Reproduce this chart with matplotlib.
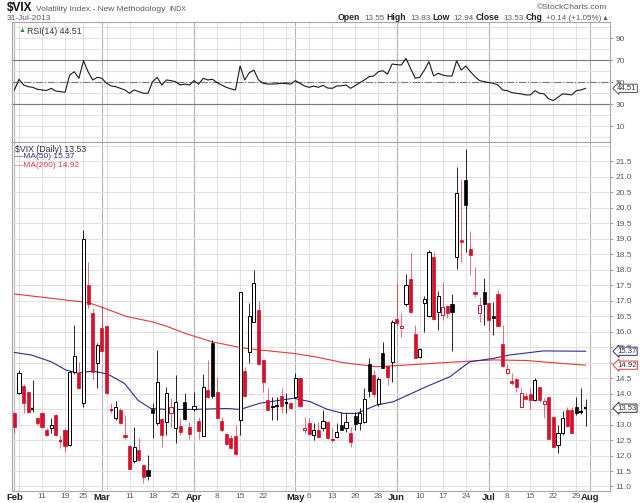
import numpy as np
import pandas as pd
import matplotlib
matplotlib.use('Agg')
import matplotlib.pyplot as plt
import matplotlib.transforms as mtransforms
from matplotlib.patches import Rectangle

plt.rcParams['font.family'] = ['Liberation Sans', 'DejaVu Sans']

# trading days Feb-Jul 2013
holidays = ['2013-02-18', '2013-03-29', '2013-05-27', '2013-07-04']
dates = pd.bdate_range('2013-02-01', '2013-07-31')
dates = dates[~dates.isin(pd.to_datetime(holidays))]

prev_close = 14.28  # close of 31-Jan, for the first candle colour

opens = [13.38, 14.01, 14.25, 14.06, 13.49, 13.20, 13.38, 12.82, 12.89, 13.31,
         12.45, 12.82, 12.34, 14.71, 14.68, 13.69, 17.51, 16.59, 15.00, 16.11,
         16.19, 13.45, 13.20, 13.47, 12.66, 12.31, 11.83, 12.18, 11.69, 11.53,
         13.49, 13.04, 13.18, 13.09, 13.36, 12.88, 12.95, 13.72, 12.93, 13.49,
         13.12, 12.64, 14.12, 15.65, 14.06, 13.12, 12.68, 12.58, 12.64, 13.15,
         14.74, 15.36, 16.33, 16.70, 15.09, 13.81, 13.56, 13.60, 13.92, 13.68,
         13.71, 13.90, 14.49, 12.82, 13.06, 12.66, 12.84, 12.88, 13.09, 12.50,
         12.61, 12.99, 12.90, 12.74, 13.28, 13.06, 13.09, 14.96, 14.60, 13.66,
         15.30, 14.90, 15.03, 16.41, 16.12, 16.90, 17.69, 15.92, 15.17, 16.92,
         16.51, 18.40, 16.65, 16.54, 16.84, 16.90, 18.40, 18.95, 20.90, 18.66,
         17.28, 16.62, 17.27, 16.92, 16.50, 17.22, 15.60, 14.66, 14.40, 14.47,
         13.58, 13.92, 14.00, 13.79, 14.23, 13.65, 13.90, 13.26, 12.34, 12.72,
         13.47, 13.47, 13.56, 13.42, 13.55]
highs = [13.42, 14.76, 14.30, 14.08, 14.44, 13.26, 13.40, 12.88, 13.20, 13.33,
         12.66, 12.88, 14.75, 16.22, 15.03, 19.29, 18.26, 16.76, 15.62, 16.83,
         16.22, 13.70, 13.77, 13.52, 13.30, 12.33, 12.93, 12.56, 11.70, 12.02,
         13.69, 15.41, 13.20, 14.22, 13.85, 14.60, 13.20, 14.01, 13.09, 14.06,
         13.26, 14.65, 15.09, 15.74, 14.55, 13.26, 12.74, 12.66, 12.99, 17.29,
         14.87, 16.92, 17.99, 17.00, 15.10, 14.17, 13.90, 13.90, 14.17, 14.01,
         13.74, 14.66, 14.50, 13.25, 13.20, 13.04, 13.09, 13.47, 13.12, 12.88,
         13.04, 13.42, 13.42, 12.93, 13.42, 13.52, 14.17, 15.14, 14.77, 14.55,
         15.68, 14.92, 16.38, 17.56, 16.60, 17.85, 18.53, 16.22, 15.47, 17.14,
         18.64, 18.59, 17.30, 17.62, 16.86, 17.22, 21.33, 20.95, 21.91, 19.27,
         18.10, 17.13, 17.72, 16.92, 16.97, 17.35, 16.22, 14.96, 14.66, 14.49,
         14.17, 14.01, 14.17, 14.49, 14.23, 13.85, 13.90, 13.26, 12.99, 13.45,
         13.56, 13.56, 13.88, 14.17, 13.83]
lows = [12.72, 13.99, 13.38, 13.37, 13.42, 12.99, 12.90, 12.63, 12.72, 12.63,
        12.23, 12.12, 12.30, 14.65, 14.15, 13.58, 16.76, 14.44, 14.17, 15.36,
        13.98, 13.38, 13.15, 13.02, 12.52, 11.55, 11.77, 11.83, 11.10, 11.21,
        12.56, 12.99, 12.29, 12.66, 12.93, 12.39, 12.66, 13.15, 12.55, 13.45,
        12.55, 12.62, 13.85, 13.85, 13.20, 12.77, 12.34, 12.20, 12.02, 12.66,
        13.90, 14.98, 16.30, 14.92, 14.06, 13.47, 13.15, 13.15, 13.36, 13.36,
        13.49, 13.85, 13.57, 12.72, 12.66, 12.50, 12.56, 12.80, 12.52, 12.45,
        12.56, 12.82, 12.77, 12.29, 12.82, 12.82, 13.04, 13.90, 13.90, 13.60,
        14.82, 14.28, 14.39, 16.22, 15.84, 16.83, 16.60, 15.14, 15.14, 16.00,
        16.49, 16.38, 16.04, 16.38, 16.43, 15.38, 18.02, 18.26, 18.59, 17.83,
        17.13, 16.33, 16.22, 16.00, 15.90, 16.18, 14.87, 14.63, 14.28, 14.06,
        13.56, 13.80, 13.50, 13.77, 13.74, 13.20, 12.54, 12.27, 12.07, 12.66,
        12.93, 12.70, 13.30, 13.35, 12.94]
closes = [12.93, 14.68, 13.71, 13.42, 13.50, 13.04, 12.93, 12.66, 13.00, 12.66,
          12.47, 12.31, 14.71, 15.23, 14.17, 19.00, 16.90, 14.71, 15.57, 15.39,
          14.01, 13.48, 13.56, 13.04, 12.59, 11.55, 12.29, 11.86, 11.30, 11.35,
          13.39, 14.39, 12.66, 14.01, 13.58, 13.74, 12.75, 13.17, 12.69, 13.60,
          12.80, 14.22, 13.88, 13.92, 13.20, 12.84, 12.37, 12.23, 12.05, 17.27,
          13.92, 16.52, 17.56, 14.97, 14.39, 13.48, 13.61, 13.62, 13.61, 13.71,
          13.52, 14.49, 13.59, 12.88, 12.70, 12.82, 12.61, 13.13, 12.56, 12.55,
          12.77, 12.82, 13.07, 12.45, 13.02, 13.37, 13.82, 14.07, 14.00, 14.48,
          14.83, 14.53, 16.30, 16.27, 16.20, 17.50, 16.63, 15.14, 15.44, 17.07,
          18.59, 16.41, 17.15, 16.80, 16.61, 16.64, 20.49, 18.90, 20.11, 18.47,
          17.21, 16.86, 16.90, 16.37, 16.44, 16.20, 14.89, 14.78, 14.35, 14.21,
          14.01, 13.84, 13.79, 14.44, 13.78, 13.76, 12.54, 12.29, 12.72, 13.22,
          12.97, 12.72, 13.39, 13.39, 13.53]

rsi = [43.0, 52.7, 47.5, 46.0, 45.4, 43.6, 43.0, 42.5, 44.5, 42.0,
       41.5, 40.9, 56.6, 59.6, 53.6, 69.6, 59.6, 52.1, 54.5, 53.6,
       49.1, 46.6, 46.0, 44.5, 43.0, 40.0, 43.0, 41.5, 40.0, 40.0,
       50.5, 54.5, 47.5, 52.1, 51.5, 50.5, 47.5, 48.4, 47.5, 51.5,
       48.4, 53.6, 52.1, 52.7, 49.7, 47.5, 45.4, 44.0, 43.0, 64.8,
       52.1, 58.7, 61.1, 52.1, 49.1, 48.4, 48.4, 48.6, 49.1, 48.8,
       48.4, 51.5, 49.1, 46.6, 45.4, 46.6, 45.4, 47.2, 44.8, 44.5,
       46.6, 46.8, 47.5, 44.5, 47.0, 49.7, 52.1, 55.1, 55.7, 59.6,
       60.5, 57.5, 66.6, 66.0, 65.7, 71.7, 62.7, 53.6, 54.5, 61.0,
       68.7, 55.7, 58.1, 56.6, 55.7, 55.7, 69.6, 61.1, 64.8, 59.6,
       55.1, 51.5, 50.6, 49.7, 49.1, 47.5, 43.0, 42.4, 40.6, 40.0,
       39.4, 38.5, 38.5, 42.4, 40.0, 39.4, 34.9, 33.4, 36.4, 39.4,
       39.0, 38.5, 42.4, 43.0, 44.51]

# moving averages at bar positions
ma50_x = [0, 3.6, 8, 11.2, 13.8, 17, 20.3, 23.9, 26.8, 29.6, 33, 38.8, 46.1, 49,
          53.3, 60.6, 64.2, 67.8, 71.4, 74.3, 78.6, 82.3, 89.5, 94.6, 96.7, 98.9,
          104, 107.6, 114.8, 124]
ma50_y = [15.33, 15.25, 15.03, 14.76, 14.66, 14.73, 14.63, 14.33, 13.79, 13.52,
          13.49, 13.49, 13.52, 13.49, 13.69, 13.85, 13.74, 13.50, 13.36, 13.36,
          13.63, 13.74, 14.23, 14.55, 14.79, 15.03, 15.14, 15.25, 15.38, 15.37]
ma200_x = [0, 16, 19, 24.4, 29.9, 33, 37, 42.8, 49, 53.3, 60.6, 65.3, 71.4, 78.6,
           85.9, 93.1, 98.9, 104, 111.2, 118.5, 124]
ma200_y = [17.22, 16.94, 16.79, 16.49, 16.32, 16.18, 15.95, 15.68, 15.49, 15.41,
           15.30, 15.19, 15.00, 14.87, 14.93, 15.00, 15.05, 15.09, 15.07, 14.98, 14.92]

tick_dates = ['2013-02-01', '2013-02-11', '2013-02-19', '2013-02-25', '2013-03-01',
              '2013-03-11', '2013-03-18', '2013-03-25', '2013-04-01', '2013-04-08',
              '2013-04-15', '2013-04-22', '2013-05-01', '2013-05-06', '2013-05-13',
              '2013-05-20', '2013-05-28', '2013-06-03', '2013-06-10', '2013-06-17',
              '2013-06-24', '2013-07-01', '2013-07-08', '2013-07-15', '2013-07-22',
              '2013-07-29', '2013-08-01']
tick_labels = ['Feb', '11', '19', '25', 'Mar', '11', '18', '25', 'Apr', '8', '15', '22',
               'May', '6', '13', '20', '28', 'Jun', '10', '17', '24', 'Jul', '8', '15',
               '22', '29', 'Aug']

RED = '#d5102c'
BLK = '#000000'
BLUE = '#2c2c94'
MARED = '#e8383b'
GRID = '#e2e2e2'
MONTH = '#b4b4b4'
SPINE = '#a8a8a8'
TXT = '#5a5a5a'

n = len(dates)
xs = np.arange(n)
xlim = (-0.52, 129.3)

fig = plt.figure(figsize=(6.4, 5.03), dpi=100)
ax_rsi = fig.add_axes([12 / 640, 1 - 142 / 503, 598 / 640, 120 / 503])
ax = fig.add_axes([12 / 640, 1 - 491 / 503, 598 / 640, 349 / 503])

# vertical grid: week starts light, month starts darker
week_pos = [i for i in range(1, n) if dates[i].isocalendar()[1] != dates[i - 1].isocalendar()[1]]
month_pos = [0] + [i for i in range(1, n) if dates[i].month != dates[i - 1].month] + [n]
for a in (ax, ax_rsi):
    for p in week_pos:
        a.axvline(p, color=GRID, lw=0.8, zorder=0)
    for p in month_pos:
        a.axvline(p, color=MONTH, lw=0.8, zorder=0)
    a.set_xlim(*xlim)
    for s in a.spines.values():
        s.set_color(SPINE)
        s.set_linewidth(0.8)
    a.yaxis.tick_right()
    a.tick_params(axis='y', labelsize=6, labelcolor=TXT, length=2, color=SPINE, pad=2)

# ---- RSI panel
ax_rsi.set_ylim(-4.3, 104.8)
for lvl in range(0, 101, 10):
    ax_rsi.axhline(lvl, color=GRID, lw=0.8, zorder=0)
ax_rsi.axhline(70, color='#7a7a7a', lw=0.8, zorder=1)
ax_rsi.axhline(30, color='#7a7a7a', lw=0.8, zorder=1)
ax_rsi.axhline(50, color='#7a7a7a', lw=0.8, ls='-.', zorder=1)
ax_rsi.plot(xs, rsi, color='#1a1a1a', lw=0.8, zorder=3)
ax_rsi.set_yticks([10, 30, 50, 70, 90])
ax_rsi.set_xticks([])
ax_rsi.text(0.011, 0.955, '\u25b2', transform=ax_rsi.transAxes, fontsize=5, color='#2e8b2e',
            va='top', ha='left')
ax_rsi.text(0.025, 0.96, 'RSI(14) 44.51', transform=ax_rsi.transAxes, fontsize=6.3,
            color='#333333', va='top', ha='left')

# ---- price panel
ax.set_ylim(10.854, 22.13)
for lvl in np.arange(11.0, 22.01, 0.5):
    ax.axhline(lvl, color=GRID, lw=0.8, zorder=0)
yt = np.arange(11.0, 21.51, 0.5)
ax.set_yticks(yt)
# 13.5 and 15.0 sit fully behind the value tags in the original
ax.set_yticklabels(['' if abs(v - 13.5) < 0.01 or abs(v - 15.0) < 0.01
                    else '%.1f' % v for v in yt])

ax.plot(ma200_x, ma200_y, color=MARED, lw=0.8, zorder=2)
ax.plot(ma50_x, ma50_y, color=BLUE, lw=0.8, zorder=2)

w = 0.68
pc = prev_close
for i in range(n):
    o, h, l, c = opens[i], highs[i], lows[i], closes[i]
    col = BLK if c >= pc else RED
    pc = c
    ax.vlines(i, l, h, color=col, lw=0.7, zorder=3, alpha=0.85 if col == BLK else 0.6)
    lo, hi = min(o, c), max(o, c)
    if hi - lo < 0.04:
        ax.hlines((o + c) / 2, i - w / 2, i + w / 2, color=col, lw=1.6, zorder=4)
    elif c > o:
        ax.add_patch(Rectangle((i - w / 2, lo), w, hi - lo, facecolor='white',
                               edgecolor=col, lw=0.7, zorder=4))
    else:
        ax.add_patch(Rectangle((i - w / 2, lo), w, hi - lo, facecolor=col,
                               edgecolor=col, lw=0.5, zorder=4))

tick_pos = [int(dates.searchsorted(pd.Timestamp(d))) for d in tick_dates]
ax.set_xticks(tick_pos)
ax.set_xticklabels(tick_labels)
ax.tick_params(axis='x', length=0, pad=1.5, labelsize=6)
for lab in ax.get_xticklabels():
    if lab.get_text().isalpha():
        lab.set_fontweight('bold')
        lab.set_color('#222222')
        lab.set_fontsize(6.8)
    else:
        lab.set_color(TXT)

ax.text(0.005, 0.992, '$VIX (Daily) 13.53', transform=ax.transAxes, fontsize=6.3,
        color='#333333', va='top', ha='left')
ax.text(0.005, 0.968, '\u2014MA(50) 15.37', transform=ax.transAxes, fontsize=6,
        color=BLUE, va='top', ha='left')
ax.text(0.005, 0.944, '\u2014MA(200) 14.92', transform=ax.transAxes, fontsize=6,
        color=MARED, va='top', ha='left')

# value tags on the right axis
def tag(a, y, txt, ec):
    tr = mtransforms.blended_transform_factory(a.transAxes, a.transData)
    a.text(1.012, y, txt, transform=tr, fontsize=5.6, color='#333333', va='center', ha='left',
           bbox=dict(boxstyle='larrow,pad=0.08', fc='white', ec=ec, lw=0.7), zorder=6,
           clip_on=False)

tag(ax_rsi, 44.51, '44.51', '#555555')
tag(ax, 15.37, '15.37', BLUE)
tag(ax, 14.92, '14.92', MARED)
tag(ax, 13.53, '13.53', '#333333')

# header, laid out piece by piece
renderer = fig.canvas.get_renderer()

def row(x0, y, pieces, right=False):
    if right:
        pieces = pieces[::-1]
    x = x0
    for s, size, weight, color, gap in pieces:
        t = fig.text(x / 640, 1 - y / 503, s, fontsize=size, fontweight=weight, color=color,
                     va='baseline', ha='right' if right else 'left')
        wpx = t.get_window_extent(renderer).width
        x = x - wpx - gap if right else x + wpx + gap

row(7, 11, [('$VIX', 8.5, 'bold', '#111111', 3),
            ('Volatility Index - New Methodology', 6, 'normal', TXT, 4),
            ('INDX', 5, 'normal', TXT, 0)])
row(7, 19.5, [('31-Jul-2013', 6, 'normal', TXT, 0)])
row(607, 9, [('\u00a9StockCharts.com', 6, 'normal', TXT, 0)], right=True)
row(608, 19.5, [('Open', 6.2, 'bold', '#222222', 2), ('13.55', 5.8, 'normal', TXT, 4),
                ('High', 6.2, 'bold', '#222222', 2), ('13.83', 5.8, 'normal', TXT, 4),
                ('Low', 6.2, 'bold', '#222222', 2), ('12.94', 5.8, 'normal', TXT, 4),
                ('Close', 6.2, 'bold', '#222222', 2), ('13.53', 5.8, 'normal', TXT, 4),
                ('Chg', 6.2, 'bold', '#222222', 2), ('+0.14 (+1.05%)', 5.8, 'normal', TXT, 3),
                ('\u25b2', 5, 'normal', TXT, 0)], right=True)

fig.savefig('out.png', dpi=100, facecolor='white')
